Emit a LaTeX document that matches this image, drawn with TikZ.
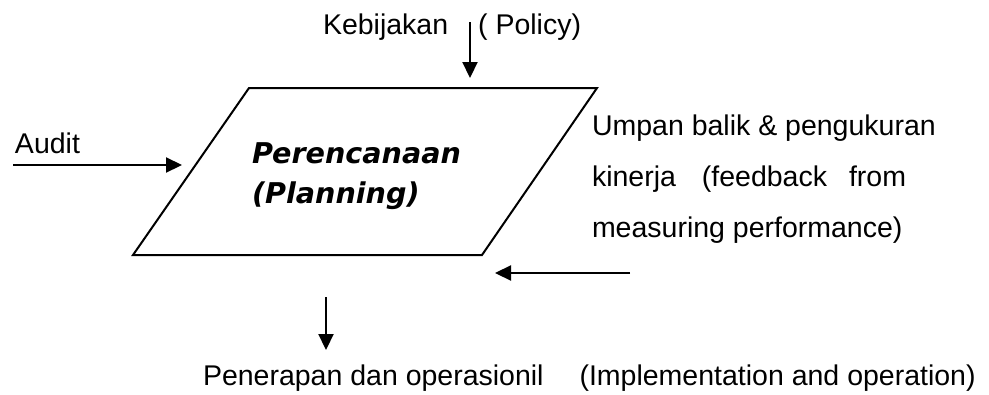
\documentclass[tikz,border=0pt]{standalone}
\usepackage{fontspec}
\setmainfont{Liberation Sans}
\newfontfamily\planfont{DejaVu Sans}
\usetikzlibrary{arrows.meta}

\begin{document}
\begin{tikzpicture}[x=1pt, y=-1pt,
    lbl/.style={inner sep=0pt, outer sep=0pt, anchor=base west,
                font=\fontsize{28.5}{34}\selectfont},
    plantext/.style={inner sep=0pt, outer sep=0pt, anchor=base west, align=left,
                font=\planfont\bfseries\itshape\fontsize{28.6}{40}\selectfont},
    notes/.style={lbl, align=left, font=\fontsize{28.5}{51}\selectfont},
    arr/.style={line width=2.2pt, -{Triangle[length=16pt, width=15pt]}},
    box/.style={line width=2pt, line join=miter}]
  \useasboundingbox (0,0) rectangle (989,394);

  % planning parallelogram
  \coordinate (tl) at (249,88);
  \coordinate (tr) at (597,88);
  \coordinate (br) at (482,255);
  \coordinate (bl) at (133,255);
  \draw[box] (tl) -- (tr) -- (br) -- (bl) -- cycle;
  % multi-line nodes sit on the baseline of their last line
  \node[plantext] (plan) at (252,203) {Perencanaan\\(Planning)};

  % labels
  \node[lbl] (policy) at (323,34) {Kebijakan\hspace{30pt}( Policy)};
  \node[lbl] (audit) at (15,153) {Audit};
  \node[notes] (feedback) at (592,237)
    {Umpan balik \& pengukuran\\kinerja\hspace{26pt}(feedback\hspace{22pt}from\\measuring performance)};
  \node[lbl] (impl) at (203,385)
    {Penerapan dan operasionil\hspace{36pt}(Implementation and operation)};

  % arrow end points
  \coordinate (policyS) at (470,22);
  \coordinate (policyE) at (470,78);
  \coordinate (auditS) at (13,165);
  \coordinate (auditE) at (182,165);
  \coordinate (fbS) at (630,273);
  \coordinate (fbE) at (495,273);
  \coordinate (implS) at (326,297);
  \coordinate (implE) at (326,350);

  \draw[arr] (policyS) -- (policyE);
  \draw[arr] (auditS) -- (auditE);
  \draw[arr] (fbS) -- (fbE);
  \draw[arr] (implS) -- (implE);
\end{tikzpicture}
\end{document}
